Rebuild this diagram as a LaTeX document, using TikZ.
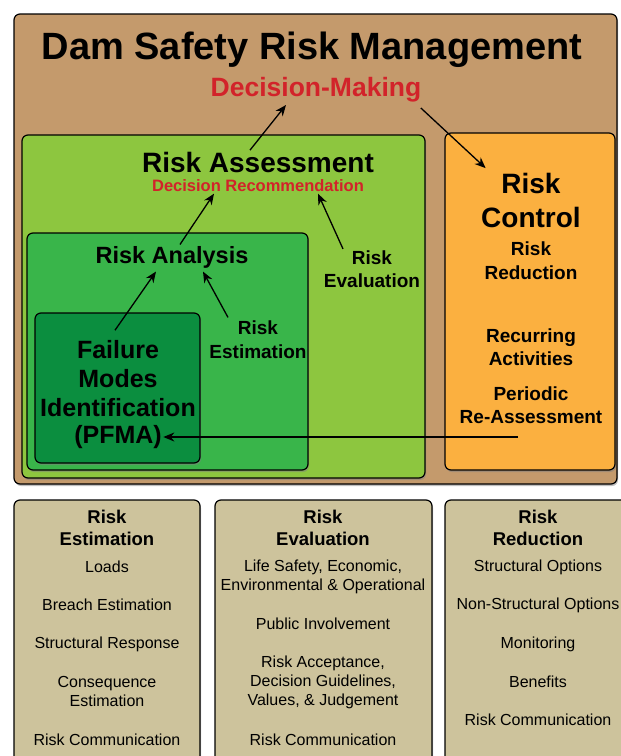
\documentclass[tikz,border=0pt]{standalone}
\usepackage{fontspec}
\setmainfont{Liberation Sans}
\usetikzlibrary{arrows.meta, shadows}
\definecolor{cbrown}{HTML}{C49A6C}
\definecolor{clime}{HTML}{8DC63F}
\definecolor{cgreen}{HTML}{39B54A}
\definecolor{cdark}{HTML}{0B8E3F}
\definecolor{corange}{HTML}{FBB040}
\definecolor{ctan}{HTML}{CDC39C}
\definecolor{cred}{HTML}{D2232A}
\newcommand\fsz[2]{\fontsize{#1}{#2}\selectfont}
\tikzset{
  every picture/.style={x=1pt, y=-1pt, line width=1.2pt},
  box/.style={draw=black, fill=#1, rounded corners=6pt, inner sep=0pt,
    drop shadow={shadow xshift=1pt, shadow yshift=-2pt, opacity=.5}},
  box/.default=ctan,
  arrow/.style={-{Stealth[length=11pt, width=9pt]}, line width=1.3pt},
  lbl/.style={align=center, inner sep=1pt},
  item/.style={align=center, inner sep=1pt, font=\fsz{16}{19}},
  head/.style={align=center, inner sep=1pt, font=\bfseries\fsz{18.5}{22}},
}

\begin{document}
\begin{tikzpicture}
  \useasboundingbox (0,0) rectangle (621,756);
  \clip (0,0) rectangle (621,756);
  % Top: management frame and nested boxes
  \node[box=cbrown, minimum width=603pt, minimum height=470pt] (mgmt) at (315.5,249) {};
  \node[box=clime, minimum width=403pt, minimum height=343pt] (assess) at (223.5,306.5) {};
  \node[box=cgreen, minimum width=281pt, minimum height=237pt] (analysis) at (167.5,351.5) {};
  \node[box=cdark, minimum width=165pt, minimum height=150pt] (fmbox) at (117.5,388) {};
  \node[box=corange, minimum width=170pt, minimum height=337pt] (control) at (530,301.5) {};

  \node[lbl, font=\bfseries\fsz{38}{44}] (dsrm) at (312,50) {Dam Safety Risk Management};
  \node[lbl, font=\bfseries\fsz{26.5}{30}, text=cred] (decmk) at (316,90) {Decision-Making};
  \node[lbl, font=\bfseries\fsz{28}{32}] (asstitle) at (258,162) {Risk Assessment};
  \node[lbl, font=\bfseries\fsz{16.5}{20}, text=cred] (decrec) at (258,186) {Decision Recommendation};
  \node[lbl, font=\bfseries\fsz{23.5}{28}] (anatitle) at (172,257) {Risk Analysis};
  \node[lbl, font=\bfseries\fsz{19}{23}] (evaltext) at (372,269) {Risk\\Evaluation};
  \node[lbl, font=\bfseries\fsz{19}{24}] (esttext) at (258,340) {Risk\\Estimation};
  \node[lbl, font=\bfseries\fsz{25}{29}] (fmtext) at (118,379) {Failure\\Modes\\Identification};
  \node[lbl, font=\bfseries\fsz{25}{29}] (pfma) at (118,437) {(PFMA)};
  \node[lbl, font=\bfseries\fsz{28}{34}] (ctitle) at (531,200) {Risk\\Control};
  \node[lbl, font=\bfseries\fsz{19}{24}] (credu) at (531,261) {Risk\\Reduction};
  \node[lbl, font=\bfseries\fsz{19}{23}] (crecur) at (531,347) {Recurring\\Activities};
  \node[lbl, font=\bfseries\fsz{19}{23}] (cperiod) at (531,405) {Periodic\\Re-Assessment};
  \coordinate (ctrlout) at (518,437);

  \draw[arrow] ([xshift=-8pt]asstitle.north) -- ([xshift=-30pt,yshift=-1pt]decmk.south);
  \draw[arrow] ([xshift=-2pt,yshift=-4pt]decmk.south east) -- ([xshift=6pt,yshift=3pt]ctitle.north west);
  \draw[arrow] ([xshift=8pt]anatitle.north) -- ([xshift=-44pt]decrec.south);
  \draw[arrow] ([xshift=-29pt]evaltext.north) -- ([xshift=60pt]decrec.south);
  \draw[arrow] ([xshift=-3pt,yshift=9pt]fmtext.north) -- ([xshift=-16pt,yshift=-2pt]anatitle.south);
  \draw[arrow] ([xshift=-30pt,yshift=2pt]esttext.north) -- ([xshift=31pt,yshift=-2pt]anatitle.south);
  \draw[arrow] (ctrlout) -- (pfma.east);

  % Bottom: three detail boxes
  \node[box, minimum width=186pt, minimum height=270pt] (estbox) at (107,635) {};
  \node[box, minimum width=217pt, minimum height=270pt] (evalbox) at (323.5,635) {};
  \node[box, minimum width=186pt, minimum height=270pt] (redbox) at (538,635) {};

  \node[head] (esthead) at (107,528) {Risk\\Estimation};
  \foreach \y/\t [count=\i] in {567/Loads, 605/Breach Estimation, 644/Structural Response,
      691/{Consequence\\Estimation}, 740/Risk Communication}{
    \node[item] (est\i) at (107,\y) {\t};
  }
  \node[head] (evalhead) at (323,528) {Risk\\Evaluation};
  \foreach \y/\t [count=\i] in {577/{Life Safety, Economic,\\Environmental \& Operational},
      624/Public Involvement, 682/{Risk Acceptance,\\Decision Guidelines,\\Values, \& Judgement},
      740/Risk Communication}{
    \node[item] (eval\i) at (323,\y) {\t};
  }
  \node[head] (redhead) at (538,528) {Risk\\Reduction};
  \foreach \y/\t [count=\i] in {567/Structural Options, 605/Non-Structural Options, 644/Monitoring,
      682/Benefits, 720/Risk Communication}{
    \node[item] (red\i) at (538,\y) {\t};
  }
\end{tikzpicture}
\end{document}
